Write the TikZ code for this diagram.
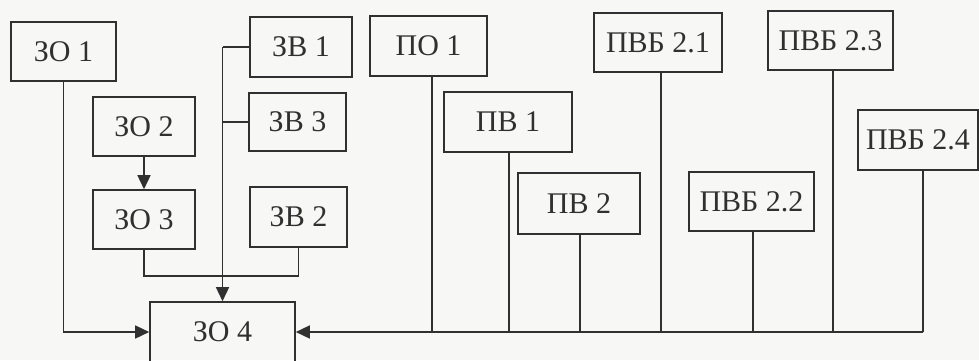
\documentclass[tikz,border=0pt]{standalone}
\usepackage{fontspec}
\setmainfont{Liberation Serif}
\usetikzlibrary{arrows.meta,calc}
\definecolor{ink}{HTML}{303030}
\definecolor{paper}{HTML}{F7F7F5}
\begin{document}
\begin{tikzpicture}[x=1pt,y=-1pt,
  box/.style={draw=ink,line width=1.6pt,rectangle,inner sep=0pt,text=ink,
    font=\fontsize{30}{32}\selectfont},
  wire/.style={draw=ink,line width=1.5pt},
  arr/.style={wire,-{Triangle[length=14pt,width=13pt]}}]
\fill[paper] (0,0) rectangle (979,360);
\useasboundingbox (0,0) rectangle (979,360);
% left group
\node[box,minimum width=105,minimum height=59] (zo1) at (63.5,51.5) {ЗО 1};
\node[box,minimum width=102,minimum height=59] (zo2) at (144,126.5) {ЗО 2};
\node[box,minimum width=102,minimum height=59] (zo3) at (144,219.5) {ЗО 3};
\node[box,minimum width=102,minimum height=60] (zv1) at (301,47) {ЗВ 1};
\node[box,minimum width=97,minimum height=58] (zv3) at (297.5,122) {ЗВ 3};
\node[box,minimum width=97,minimum height=60] (zv2) at (298.5,217) {ЗВ 2};
\node[box,minimum width=145,minimum height=60] (zo4) at (222.5,332) {ЗО 4};
% right group
\node[box,minimum width=117,minimum height=60] (po1) at (428.5,46) {ПО 1};
\node[box,minimum width=128,minimum height=60] (pv1) at (508,122) {ПВ 1};
\node[box,minimum width=122,minimum height=61] (pv2) at (579,203.5) {ПВ 2};
\node[box,minimum width=128,minimum height=59] (pvb21) at (658,42.5) {ПВБ 2.1};
\node[box,minimum width=125,minimum height=59] (pvb22) at (751.5,201.5) {ПВБ 2.2};
\node[box,minimum width=125,minimum height=59] (pvb23) at (830.5,40.5) {ПВБ 2.3};
\node[box,minimum width=120,minimum height=60] (pvb24) at (918,140) {ПВБ 2.4};
% left connectors
\draw[arr] (zo1.south) |- (zo4.west);
\draw[arr] (zo2.south) -- (zo3.north);
\coordinate (j3) at ($(zo3.south)+(0,26)$);
\draw[wire] (zo3.south) -- (j3) -| (zv2.south);
\coordinate (j1) at (zv1.west -| zo4.north);
\coordinate (j2) at (zv3.west -| zo4.north);
\draw[wire] (zv1.west) -- (j1);
\draw[wire] (zv3.west) -- (j2);
\draw[arr] (j1) -- (zo4.north);
% right bus
\coordinate (t24) at ($(pvb24.south)+(5,0)$);
\coordinate (busend) at (t24 |- zo4.east);
\draw[wire] (t24) -- (busend);
\draw[arr] (busend) -- (zo4.east);
\foreach \n/\dx in {po1/3.5,pv1/1,pv2/1,pvb21/3,pvb22/1.5,pvb23/2.5}{
  \coordinate (tt) at ($(\n.south)+(\dx,0)$);
  \draw[wire] (tt) -- (tt |- busend);
}
\end{tikzpicture}
\end{document}
